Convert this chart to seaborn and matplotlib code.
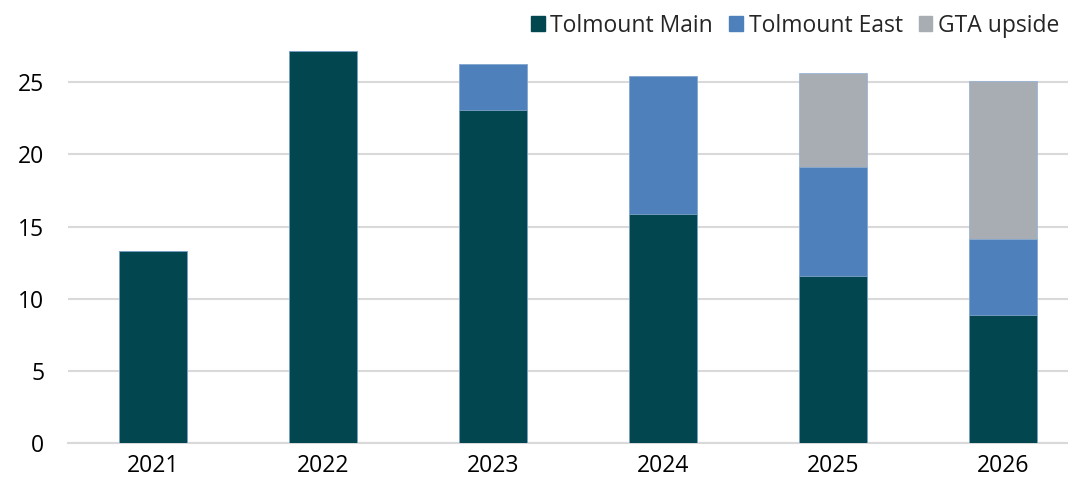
import pandas as pd
import matplotlib.pyplot as plt
import seaborn as sns
from matplotlib.patches import Patch

# Values
years = ['2021', '2022', '2023', '2024', '2025', '2026']
tolmount_main = [13.3, 27.15, 23.05, 15.85, 11.6, 8.85]
tolmount_east = [0.0, 0.0, 3.2, 9.6, 7.55, 5.25]
gta_upside = [0.0, 0.0, 0.0, 0.0, 6.5, 11.0]

df = pd.DataFrame({'Year': years, 'Main': tolmount_main,
                   'East': tolmount_east, 'GTA': gta_upside})
df['MainEast'] = df['Main'] + df['East']
df['Total'] = df['MainEast'] + df['GTA']

c_main = '#02464F'
c_east = '#4E81BB'
c_gta = '#A8ACB3'

sns.set_style('white')
plt.rcParams['font.family'] = ['Open Sans', 'DejaVu Sans']

fig = plt.figure(figsize=(10.68, 4.79), dpi=100)
ax = fig.add_axes([68 / 1068, 36 / 479, 1000 / 1068, 433 / 479])

# stacked bars drawn as overlapping cumulative totals
for col, c in [('Total', c_gta), ('MainEast', c_east), ('Main', c_main)]:
    sns.barplot(data=df, x='Year', y=col, color=c, width=0.4,
                saturation=1, ax=ax, zorder=3, edgecolor='#8FB0D6',
                linewidth=0.5)

ax.set_ylim(0, 30)
ax.set_xlim(-0.5, 5.382)
ax.set_yticks([0, 5, 10, 15, 20, 25])
ax.set_xlabel('')
ax.set_ylabel('')
ax.grid(axis='y', color='#D9D9D9', linewidth=1.5, zorder=0)
for s in ['top', 'right', 'left']:
    ax.spines[s].set_visible(False)
ax.spines['bottom'].set_color('#D9D9D9')
ax.spines['bottom'].set_linewidth(1.5)
ax.tick_params(axis='both', length=0, labelsize=16.5, colors='black')
ax.tick_params(axis='y', pad=17)
ax.tick_params(axis='x', pad=8)

handles = [Patch(color=c_main, label='Tolmount Main'),
           Patch(color=c_east, label='Tolmount East'),
           Patch(color=c_gta, label='GTA upside')]
fig.legend(handles=handles, loc='upper right', bbox_to_anchor=(1.005, 1.0),
           ncol=3, frameon=False, fontsize=16.5, handlelength=0.6,
           handleheight=0.6, handletextpad=0.25, columnspacing=0.7,
           borderaxespad=0.2)

fig.savefig('out.png', dpi=100)
